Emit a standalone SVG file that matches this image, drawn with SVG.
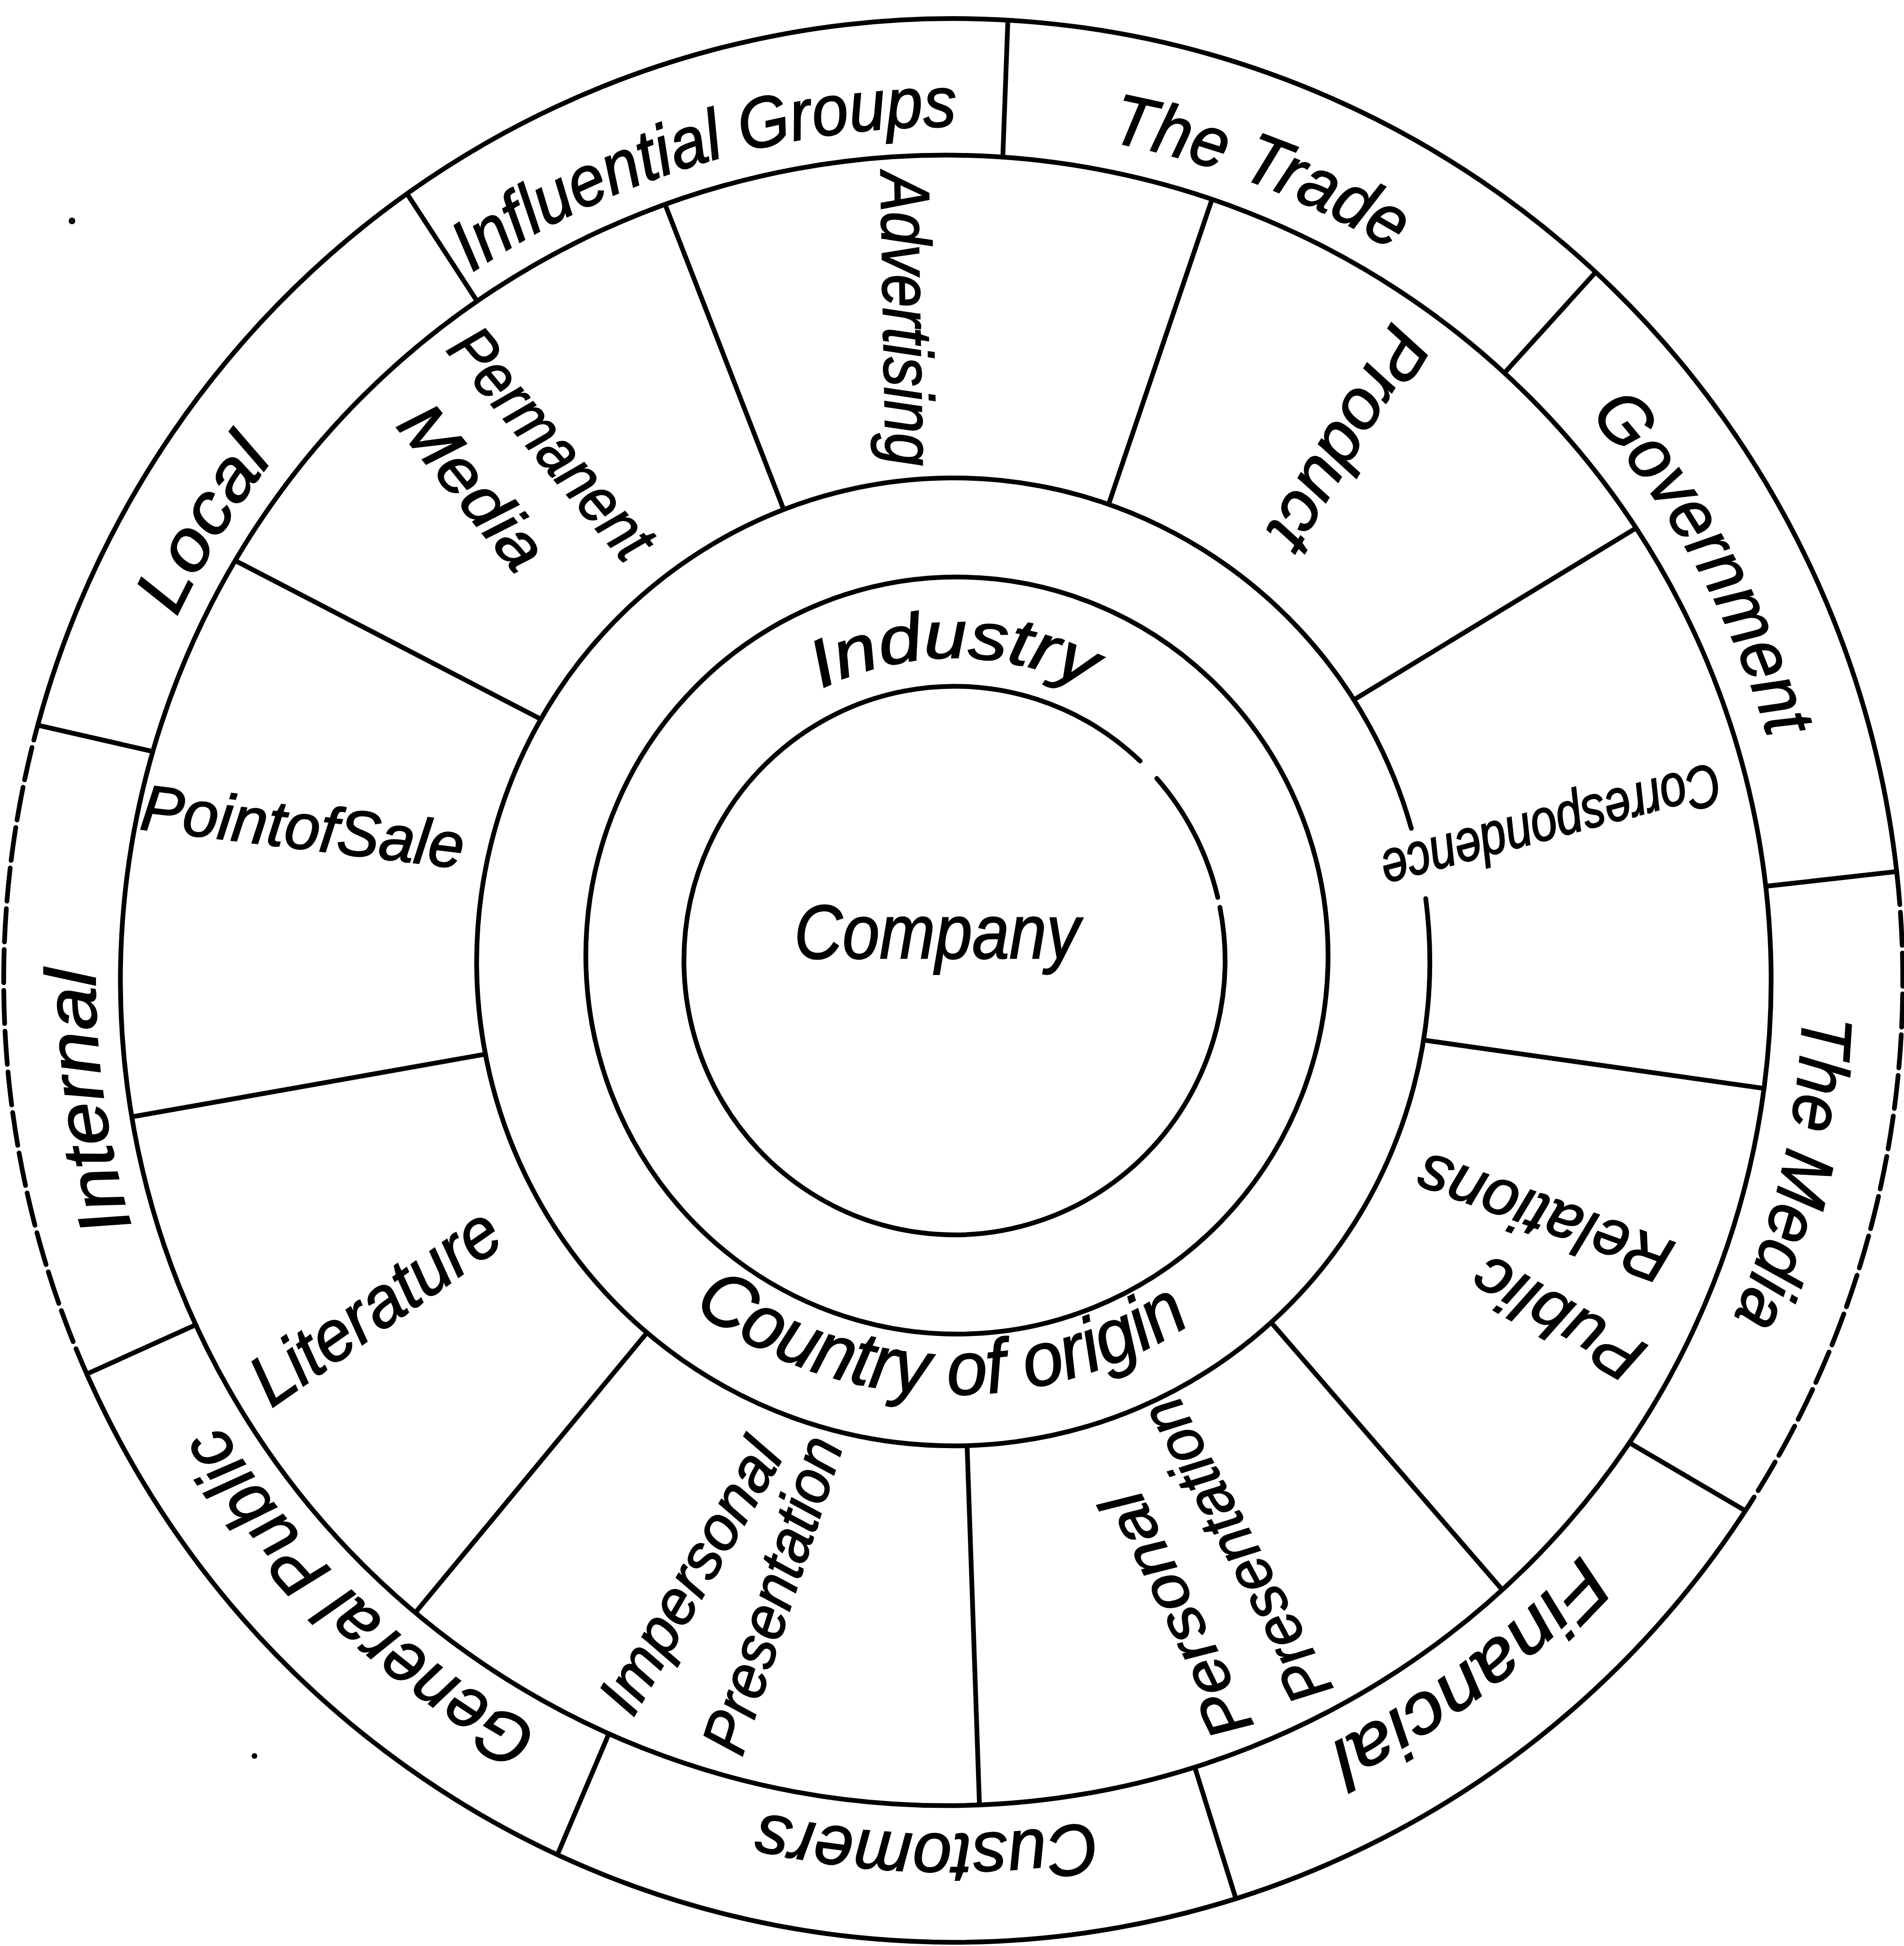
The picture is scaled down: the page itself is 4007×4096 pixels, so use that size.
<svg xmlns="http://www.w3.org/2000/svg" width="4007" height="4096" viewBox="0 0 4007 4096">
<style>
.ln{fill:none;stroke:#000;stroke-width:10;stroke-linecap:round;stroke-linejoin:round}
.dash{stroke-dasharray:70 16}
.t{font-family:"Liberation Sans","DejaVu Sans",Arial,sans-serif;font-style:italic;fill:#000;stroke:#000;stroke-width:2.5}
.o{font-size:150px}
.m{text-anchor:middle;dominant-baseline:central}
</style>
<defs>
<clipPath id="clipOuter"><path clip-rule="evenodd" d="M7.8,2063.6 A1998.3,2024.4 0 1 0 4004.4,2063.6 A1998.3,2024.4 0 1 0 7.8,2063.6 Z M253.4,2063.6 A1737,1737 0 1 0 3727.4,2063.6 A1737,1737 0 1 0 253.4,2063.6 Z"/></clipPath>
<clipPath id="clipMid"><path clip-rule="evenodd" d="M253.4,2063.6 A1737,1737 0 1 0 3727.4,2063.6 A1737,1737 0 1 0 253.4,2063.6 Z M1003.1,2024.4 A1003,1018.7 0 1 0 3009.1,2024.4 A1003,1018.7 0 1 0 1003.1,2024.4 Z"/></clipPath>
<path id="pOuter" d="M3795.1,2063.6 A1797.1,1797.1 0 0 1 200.9,2063.6 A1797.1,1797.1 0 0 1 3795.1,2063.6 A1797.1,1797.1 0 0 1 200.9,2063.6 A1797.1,1797.1 0 0 1 3795.1,2063.6"/>
<path id="pIndustry" d="M1371.7,2021.8 A637,637 0 0 1 2645.7,2021.8"/>
<path id="pCountry" d="M1094.5,2024.4 A911.6,911.6 0 0 0 2917.7,2024.4"/>
</defs>
<rect width="4007" height="4096" fill="#fff"/>

<g id="rings">
<path class="ln" d="M3664.7,3192.7 A1998.3,2024.4 0 0 1 187.6,2903.1"/>
<path class="ln dash" d="M187.6,2903.1 A1998.3,2024.4 0 0 1 80.5,1522.6"/>
<path class="ln" d="M80.5,1522.6 A1998.3,2024.4 0 0 1 3991.6,1834.4"/>
<path class="ln dash" d="M3991.6,1834.4 A1998.3,2024.4 0 0 1 3664.7,3192.7"/>
<circle class="ln" cx="1990.4" cy="2063.6" r="1737"/>
<path class="ln" d="M3000.5,1891.4 A1003,1018.7 0 1 1 2970.2,1743.6"/>
<ellipse class="ln" cx="2013.9" cy="2011.3" rx="781" ry="796.7"/>
<path class="ln" d="M2434.5,1638.5 A569.4,577.3 0 0 1 2562.8,1889.0 M2567.3,1909.7 A569.4,577.3 0 1 1 2399.3,1601.7"/>
<circle cx="151.5" cy="465" r="7" fill="#000"/>
<circle cx="535.5" cy="3696" r="6" fill="#000"/>
</g>

<g id="connectors">
<g clip-path="url(#clipOuter)">
<line class="ln" x1="817.0" y1="346.9" x2="1021.9" y2="661.4"/>
<line class="ln" x1="2123.1" y1="-12.0" x2="2108.5" y2="382.9"/>
<line class="ln" x1="3391.5" y1="536.0" x2="3146.5" y2="806.7"/>
<line class="ln" x1="4055.0" y1="1827.4" x2="3663.7" y2="1871.3"/>
<line class="ln" x1="3726.0" y1="3210.9" x2="3407.7" y2="3024.2"/>
<line class="ln" x1="2606.9" y1="4015.4" x2="2497.1" y2="3664.2"/>
<line class="ln" x1="1157.2" y1="3941.1" x2="1303.4" y2="3597.4"/>
<line class="ln" x1="100.3" y1="2929.2" x2="440.4" y2="2775.7"/>
<line class="ln" x1="4.1" y1="1509.2" x2="340.7" y2="1586.1"/>
</g>
<g clip-path="url(#clipMid)">
<line class="ln" x1="1375.5" y1="367.8" x2="1670.2" y2="1126.3"/>
<line class="ln" x1="2571.1" y1="359.2" x2="2310.9" y2="1127.1"/>
<line class="ln" x1="3491.1" y1="1082.2" x2="2785.8" y2="1511.6"/>
<line class="ln" x1="3783.6" y1="2301.0" x2="2921.7" y2="2178.7"/>
<line class="ln" x1="3215.8" y1="3409.0" x2="2617.1" y2="2716.4"/>
<line class="ln" x1="2063.5" y1="3863.3" x2="2032.2" y2="2954.2"/>
<line class="ln" x1="840.6" y1="3434.9" x2="1411.0" y2="2745.3"/>
<line class="ln" x1="203.2" y1="2364.0" x2="1087.2" y2="2207.2"/>
<line class="ln" x1="433.3" y1="1148.0" x2="1188.8" y2="1539.9"/>
</g>
</g>

<g id="outer-ring">
<g id="influential-groups"><text class="t o" text-anchor="middle"><textPath href="#pOuter" startOffset="19233" textLength="1082" lengthAdjust="spacingAndGlyphs">Influential Groups</textPath></text></g>
<g id="the-trade"><text class="t o" text-anchor="middle"><textPath href="#pOuter" startOffset="20418.6" textLength="643" lengthAdjust="spacingAndGlyphs">The Trade</textPath></text></g>
<g id="government"><text class="t o" text-anchor="middle"><textPath href="#pOuter" startOffset="21673.2" textLength="784" lengthAdjust="spacingAndGlyphs">Government</textPath></text></g>
<g id="the-media"><text class="t o" text-anchor="middle"><textPath href="#pOuter" startOffset="11692.9" textLength="659" lengthAdjust="spacingAndGlyphs">The Media</textPath></text></g>
<g id="financial"><text class="t o" text-anchor="middle"><textPath href="#pOuter" startOffset="12953.7" textLength="674" lengthAdjust="spacingAndGlyphs">Financial</textPath></text></g>
<g id="customers"><text class="t o" text-anchor="middle"><textPath href="#pOuter" startOffset="14161.3" textLength="709" lengthAdjust="spacingAndGlyphs">Customers</textPath></text></g>
<g id="general-public"><text class="t o" text-anchor="middle"><textPath href="#pOuter" startOffset="15484.9" textLength="941" lengthAdjust="spacingAndGlyphs">General Public</textPath></text></g>
<g id="internal"><text class="t o" text-anchor="middle"><textPath href="#pOuter" startOffset="16686.2" textLength="549" lengthAdjust="spacingAndGlyphs">Internal</textPath></text></g>
<g id="local"><text class="t o" text-anchor="middle"><textPath href="#pOuter" startOffset="17921.9" textLength="392" lengthAdjust="spacingAndGlyphs">Local</textPath></text></g>
</g>

<g id="middle-ring">
<g id="permanent-media">
<text class="t m" font-size="136" transform="translate(1162.4,932.5) rotate(50)" textLength="590" lengthAdjust="spacingAndGlyphs">Permanent</text>
<text class="t m" font-size="136" transform="translate(995.2,1024) rotate(51)" textLength="405" lengthAdjust="spacingAndGlyphs">Media</text>
</g>
<g id="advertising"><text class="t m" font-size="146" transform="translate(1909.4,671.3) rotate(89)" textLength="619" lengthAdjust="spacingAndGlyphs">Advertising</text></g>
<g id="product"><text class="t m" font-size="146" transform="translate(2839.4,924.7) rotate(121)" textLength="522" lengthAdjust="spacingAndGlyphs">Product</text></g>
<g id="correspondence"><text class="t m" font-size="125" transform="translate(3265.1,1742) rotate(165)" textLength="734" lengthAdjust="spacingAndGlyphs">Correspondence</text></g>
<g id="public-relations">
<text class="t m" font-size="136" transform="translate(3278.2,2776.7) rotate(210)" textLength="392" lengthAdjust="spacingAndGlyphs">Public</text>
<text class="t m" font-size="136" transform="translate(3249.5,2565) rotate(200)" textLength="562" lengthAdjust="spacingAndGlyphs">Relations</text>
</g>
<g id="personal-presentation">
<text class="t m" font-size="131" transform="translate(2476.3,3401) rotate(-116)" textLength="559" lengthAdjust="spacingAndGlyphs">Personal</text>
<text class="t m" font-size="131" transform="translate(2601.7,3265.1) rotate(-118)" textLength="705" lengthAdjust="spacingAndGlyphs">Presentation</text>
</g>
<g id="impersonal-presentation">
<text class="t m" font-size="131" transform="translate(1452.3,3317.4) rotate(-60)" textLength="640" lengthAdjust="spacingAndGlyphs">Impersonal</text>
<text class="t m" font-size="131" transform="translate(1625,3356.5) rotate(-72)" textLength="692" lengthAdjust="spacingAndGlyphs">Presentation</text>
</g>
<g id="literature"><text class="t m" font-size="151" transform="translate(788.9,2748) rotate(-35)" textLength="606" lengthAdjust="spacingAndGlyphs">Literature</text></g>
<g id="point-of-sale"><text class="t m" font-size="136" transform="translate(637.4,1740) rotate(7)" textLength="684" lengthAdjust="spacingAndGlyphs">PointofSale</text></g>
</g>

<g id="inner-rings">
<g id="industry"><text class="t" font-size="140" text-anchor="middle"><textPath href="#pIndustry" startOffset="50%" textLength="580" lengthAdjust="spacingAndGlyphs">Industry</textPath></text></g>
<g id="country-of-origin"><text class="t" font-size="160" text-anchor="middle"><textPath href="#pCountry" startOffset="49%" textLength="1120" lengthAdjust="spacingAndGlyphs">Country of origin</textPath></text></g>
<g id="company"><text class="t" font-size="162" text-anchor="middle" x="1972" y="2016.5" textLength="601" lengthAdjust="spacingAndGlyphs">Company</text></g>
</g>
</svg>
